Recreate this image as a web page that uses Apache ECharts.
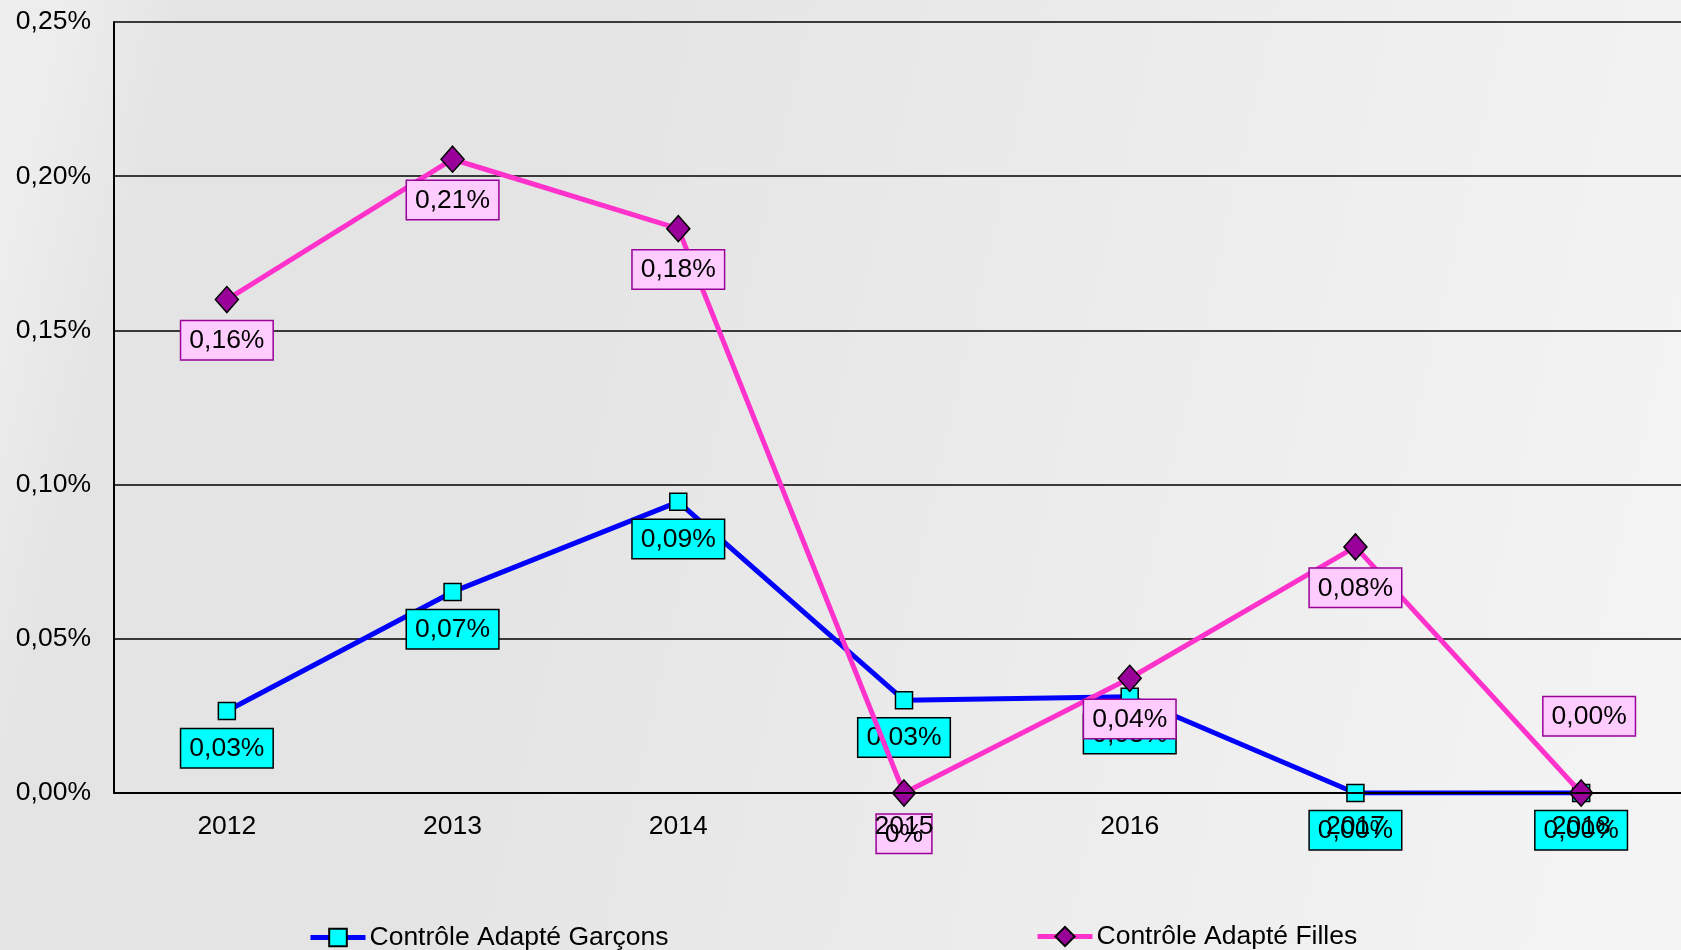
<!DOCTYPE html>
<html>
<head>
<meta charset="utf-8">
<script src="https://cdn.jsdelivr.net/npm/echarts@6/dist/echarts.min.js"></script>
<style>
html,body{margin:0;padding:0;width:1681px;height:950px;overflow:hidden;}
#chart{width:1681px;height:950px;}
</style>
</head>
<body>
<div id="chart"></div>
<script>
const categories = ['2012', '2013', '2014', '2015', '2016', '2017', '2018'];
const garconsName = 'Contrôle Adapté Garçons';
const fillesName = 'Contrôle Adapté Filles';
const garconsValues = [0.0266, 0.0652, 0.0944, 0.0301, 0.0312, 0, 0];
const fillesValues = [0.160, 0.2055, 0.183, 0, 0.0372, 0.0798, 0];
const garconsLabels = ['0,03%', '0,07%', '0,09%', '0,03%', '0,03%', '0,00%', '0,00%'];
const fillesLabels = ['0,16%', '0,21%', '0,18%', '0%', '0,04%', '0,08%', '0,00%'];
const yTicks = ['0,00%', '0,05%', '0,10%', '0,15%', '0,20%', '0,25%'];

const FONT = 'Liberation Sans, Arial, sans-serif';
const FS = 26.5;
const chart = echarts.init(document.getElementById('chart'), null, {renderer: 'canvas'});

const baseLabel = {
  show: true,
  position: 'bottom',
  fontFamily: FONT,
  fontSize: FS,
  lineHeight: 29,
  color: '#000',
  padding: [5, 8, 4, 8],
  borderWidth: 1.5
};

const garconsData = garconsValues.map((v, i) => ({value: v, labelText: garconsLabels[i]}));
const fillesData = fillesValues.map((v, i) => {
  const d = {value: v, labelText: fillesLabels[i]};
  if (i === categories.length - 1) {
    d.label = {position: 'top', distance: 44, offset: [8, 0]};
  }
  return d;
});

const option = {
  backgroundColor: {
    type: 'linear', x: 0, y: 0.3, x2: 1, y2: 0.7,
    colorStops: [
      {offset: 0, color: '#ededed'},
      {offset: 0.07, color: '#e4e4e4'},
      {offset: 0.3, color: '#e4e4e4'},
      {offset: 1, color: '#f4f4f4'}
    ]
  },
  animation: false,
  textStyle: {fontFamily: FONT},
  grid: {left: 114, top: 22, width: 1580, bottom: 157, containLabel: false, outerBoundsMode: 'none'},
  xAxis: {
    type: 'category',
    data: categories,
    boundaryGap: true,
    z: 20,
    axisLine: {show: true, lineStyle: {color: '#000', width: 2}},
    axisTick: {show: false},
    axisLabel: {fontFamily: FONT, fontSize: FS, color: '#000', margin: 20},
    splitLine: {show: false}
  },
  yAxis: {
    type: 'value',
    min: 0, max: 0.25, interval: 0.05,
    axisLine: {show: true, lineStyle: {color: '#000', width: 2}},
    axisTick: {show: false},
    axisLabel: {
      fontFamily: FONT, fontSize: FS, color: '#000', margin: 23,
      formatter: (v) => yTicks[Math.round(v / 0.05)]
    },
    splitLine: {show: true, lineStyle: {color: '#000', width: 1.5}}
  },
  legend: [
    {
      data: [garconsName], left: 308, top: 924, padding: 0,
      itemWidth: 55, itemHeight: 22, itemGap: 4,
      lineStyle: {width: 5},
      textStyle: {fontFamily: FONT, fontSize: FS, color: '#000', padding: [0, 0, 0, -1]}
    },
    {
      data: [fillesName], left: 1035, top: 923, padding: 0,
      itemWidth: 55, itemHeight: 24, itemGap: 4,
      lineStyle: {width: 5},
      textStyle: {fontFamily: FONT, fontSize: FS, color: '#000', padding: [0, 0, 0, -1]}
    }
  ],
  series: [
    {
      name: garconsName,
      type: 'line',
      data: garconsData,
      z: 2,
      symbol: 'rect',
      symbolSize: 17,
      lineStyle: {color: '#0000ff', width: 5},
      itemStyle: {color: '#00ffff', borderColor: '#000', borderWidth: 1.5},
      emphasis: {disabled: true},
      label: Object.assign({}, baseLabel, {
        distance: 9,
        backgroundColor: '#00ffff',
        borderColor: '#000',
        formatter: (p) => p.data.labelText
      })
    },
    {
      name: fillesName,
      type: 'line',
      data: fillesData,
      z: 3,
      symbol: 'diamond',
      symbolSize: [23, 26],
      lineStyle: {color: '#ff33cc', width: 5},
      itemStyle: {color: '#990099', borderColor: '#000', borderWidth: 1.5},
      emphasis: {disabled: true},
      label: Object.assign({}, baseLabel, {
        distance: 8,
        backgroundColor: '#ffccff',
        borderColor: '#990099',
        formatter: (p) => p.data.labelText
      })
    }
  ]
};
chart.setOption(option);
</script>
</body>
</html>
